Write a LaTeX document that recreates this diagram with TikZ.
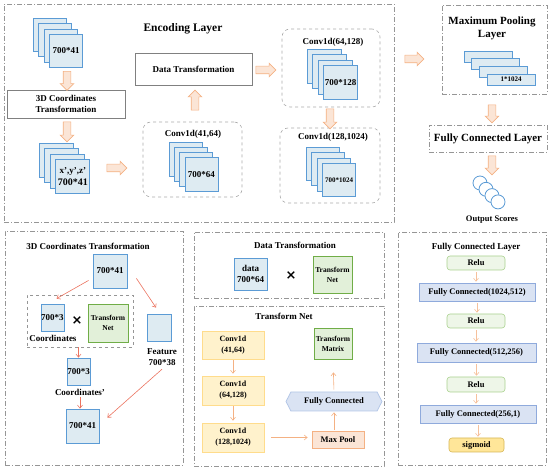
\documentclass[tikz,border=0pt]{standalone}
\usepackage{fontspec}
\setmainfont{Liberation Serif}
\newfontfamily\symfont{DejaVu Sans}
\usepackage{tikz}
\usetikzlibrary{arrows.meta,positioning,calc,shapes.arrows,shapes.symbols}
\definecolor{sqfill}{RGB}{222,235,242}
\definecolor{sqline}{RGB}{91,155,213}
\definecolor{gnfill}{RGB}{226,240,217}
\definecolor{gnline}{RGB}{112,173,71}
\definecolor{gnlight}{RGB}{169,209,142}
\definecolor{ylfill}{RGB}{255,242,204}
\definecolor{ylline}{RGB}{255,220,140}
\definecolor{sgfill}{RGB}{255,230,153}
\definecolor{sgline}{RGB}{214,182,86}
\definecolor{pkfill}{RGB}{251,229,214}
\definecolor{pkline}{RGB}{244,177,131}
\definecolor{bufill}{RGB}{218,227,243}
\definecolor{buline}{RGB}{143,170,220}
\definecolor{hxline}{RGB}{180,199,231}
\definecolor{lnred}{RGB}{235,115,95}
\definecolor{framegray}{RGB}{150,150,150}
\tikzset{
  frm/.style={draw=framegray, line width=0.6pt, dash pattern=on 5pt off 2pt on 1pt off 2pt, inner sep=0pt},
  rfrm/.style={draw=framegray!80, line width=0.6pt, dashed, rounded corners=8pt, inner sep=0pt},
  plain/.style={draw=black!50, line width=0.6pt, inner sep=0pt, align=center, font=\fontsize{9}{11}\bfseries},
  sq/.style={draw=sqline, fill=sqfill, line width=0.8pt, inner sep=0pt},
  gbox/.style={draw=gnline, fill=gnfill, line width=0.8pt, inner sep=0pt, align=center, font=\fontsize{7.5}{10}\bfseries},
  ybox/.style={draw=ylline, fill=ylfill, line width=0.6pt, inner sep=0pt, align=center, font=\fontsize{8}{11}\bfseries},
  relubox/.style={draw=gnlight, fill=gnfill!60, line width=0.6pt, rounded corners=3pt, inner sep=0pt, font=\fontsize{8.5}{10}\bfseries},
  fcbox/.style={draw=buline, fill=bufill, line width=0.6pt, inner sep=0pt, font=\fontsize{8.5}{10}\bfseries},
  blk/.style={single arrow, draw=pkline, fill=pkfill, line width=0.6pt, inner sep=3.5pt,
    single arrow head extend=3pt, minimum height=19pt},
  ln/.style={draw=lnred, line width=0.6pt, -{Straight Barb[length=3pt,width=5pt]}},
  lnp/.style={draw=pkline, line width=0.6pt, -{Straight Barb[length=3pt,width=5pt]}},
  ttl/.style={font=\fontsize{9}{11}\bfseries, inner sep=0pt, align=center},
  times/.style={font=\symfont\fontsize{13}{13}\bfseries, inner sep=0pt}
}
% stack of four shifted boxes: name, x0, y0, width, height, step, label
\newcommand{\layerstack}[7]{%
  \foreach \k in {0,...,3}
    \node[sq, minimum width=#4, minimum height=#5] (#1-\k)
      at ({#2+#4/2+#6*\k},{#3+#5/2+#6*\k}) {};
  \node[inner sep=0pt, align=center] (#1-lbl) at (#1-3) {#7};
}

\begin{document}
\begin{tikzpicture}[x=1pt, y=-1pt, font=\bfseries]
  \useasboundingbox (0,0) rectangle (550,473);

  % ---------- encoding layer ----------
  \node[frm, minimum width=390, minimum height=218] (enc) at (199,113) {};
  \node[font=\fontsize{11.5}{13}\bfseries] (enctitle) at (183,29) {Encoding Layer};

  \layerstack{s1}{33}{18}{33}{33}{5.5}{\fontsize{9}{11}\bfseries 700*41}
  \node[plain, minimum width=118, minimum height=28] (ct) at (66,104)
    {3D Coordinates\\Transformation};
  \layerstack{s2}{39}{143}{34}{34}{5.6}{\fontsize{9}{11}\bfseries x',y',z'\\700*41}

  \node[plain, minimum width=117, minimum height=32] (dt) at (193.5,69) {Data Transformation};

  \node[rfrm, minimum width=99, minimum height=75] (cva) at (192.5,159.5) {};
  \node[ttl] (cvatitle) at (193,134) {Conv1d(41,64)};
  \layerstack{s3}{169}{142}{33}{34}{5.3}{\fontsize{9}{11}\bfseries 700*64}

  \node[rfrm, minimum width=98, minimum height=78] (cvb) at (331,68) {};
  \node[ttl] (cvbtitle) at (333,42) {Conv1d(64,128)};
  \layerstack{s4}{307}{49}{34}{34}{5.5}{\fontsize{9}{11}\bfseries 700*128}

  \node[rfrm, minimum width=100, minimum height=75] (cvc) at (330,165.5) {};
  \node[ttl] (cvctitle) at (333,137) {Conv1d(128,1024)};
  \layerstack{s5}{306}{147}{33}{33}{5.5}{\fontsize{7}{9}\bfseries 700*1024}

  \node[blk, shape border rotate=270] (a1) at (67,79) {};
  \node[blk, shape border rotate=270, minimum height=20pt] (a2) at (67,130) {};
  \node[blk, minimum height=20pt] (a3) at (115,168) {};
  \node[blk, shape border rotate=90, minimum height=20pt] (a4) at (195,102) {};
  \node[blk, minimum height=20pt] (a5) at (264,70) {};
  \node[blk, shape border rotate=270, minimum height=20pt] (a6) at (330,117) {};

  % ---------- pooling and output ----------
  \node[blk] (a7) at (412.5,59) {};
  \node[frm, minimum width=105, minimum height=89] (mpl) at (494.5,49.5) {};
  \node[ttl, font=\fontsize{11}{13}\bfseries] (mpltitle) at (492,28) {Maximum Pooling\\Layer};
  \layerstack{bar}{464}{51}{48}{11}{7.7}{\fontsize{7}{9}\bfseries 1*1024}

  \node[blk, shape border rotate=270, minimum height=18pt] (a8) at (492,112) {};
  \node[frm, minimum width=118, minimum height=27, font=\fontsize{11}{13}\bfseries] (fcl) at (488,138.5)
    {Fully Connected Layer};
  \node[blk, shape border rotate=270] (a9) at (492,163.5) {};

  \foreach \k in {0,...,3}
    \node[circle, draw=sqline, fill=white, line width=0.8pt, minimum size=14, inner sep=0pt]
      (o\k) at ({480+6*\k},{183+6.3*\k}) {};
  \node[ttl, font=\fontsize{8.5}{10}\bfseries] (outlbl) at (492,220) {Output Scores};

  % ---------- 3D coordinates transformation ----------
  \node[frm, minimum width=178, minimum height=234] (bx1) at (94,348) {};
  \node[ttl] (bx1title) at (88,246) {3D Coordinates Transformation};
  \node[sq, minimum width=34, minimum height=34, font=\fontsize{9}{11}\bfseries] (t41) at (110,271) {700*41};
  \node[draw=framegray, dashed, line width=0.8pt, minimum width=106, minimum height=52, inner sep=0pt] (dbox) at (80,321) {};
  \node[sq, minimum width=23, minimum height=27, font=\fontsize{9}{11}\bfseries] (c3) at (52.5,317.5) {700*3};
  \node[font=\fontsize{9}{11}\bfseries, inner sep=0pt] (coordlbl) at (53,338) {Coordinates};
  \node[times] (x1) at (77,321) {×};
  \node[gbox, minimum width=40, minimum height=38] (tn1) at (108,323) {Transform\\Net};
  \node[sq, minimum width=24, minimum height=27] (feat) at (159,327.5) {};
  \node[ttl] (featlbl) at (162,357.5) {Feature\\700*38};
  \node[sq, minimum width=23, minimum height=27, font=\fontsize{9}{11}\bfseries] (c3b) at (78.5,371.5) {700*3};
  \node[font=\fontsize{9}{11}\bfseries, inner sep=0pt] (coordplbl) at (80,392) {Coordinates'};
  \node[sq, minimum width=33, minimum height=34, font=\fontsize{9}{11}\bfseries] (b41) at (82.5,426) {700*41};

  \draw[ln] ($(t41.south west)+(-4,-8)$) -- ($(c3.north)+(4,-5)$);
  \draw[ln] ($(t41.south east)+(9,-10)$) -- ($(feat.north)+(-3,-6)$);
  \draw[ln] (dbox.south -| c3b.north) -- (c3b.north);
  \draw[ln] ($(coordplbl.south)+(0,2)$) -- (b41.north -| coordplbl.south);
  \draw[ln] ($(featlbl.south)+(0,3)$) -- ($(b41.north east)+(8,9)$);

  % ---------- data transformation ----------
  \node[frm, minimum width=190, minimum height=66] (bx2) at (289,265) {};
  \node[ttl] (bx2title) at (295,245) {Data Transformation};
  \node[sq, minimum width=33, minimum height=32, align=center, font=\fontsize{9}{11}\bfseries] (data) at (250.5,274) {data\\700*64};
  \node[times] (x2) at (291,276) {×};
  \node[gbox, minimum width=39, minimum height=37] (tn2) at (332.5,274.5) {Transform\\Net};

  % ---------- transform net ----------
  \node[frm, minimum width=190, minimum height=160] (bx3) at (289,386) {};
  \node[ttl] (bx3title) at (284,316) {Transform Net};
  \node[ybox, minimum width=62, minimum height=28] (cv1) at (233,345) {Conv1d\\(41,64)};
  \node[ybox, minimum width=62, minimum height=29] (cv2) at (233,390.5) {Conv1d\\(64,128)};
  \node[ybox, minimum width=62, minimum height=29] (cv3) at (233,437.5) {Conv1d\\(128,1024)};
  \node[draw=pkline, fill=pkfill, line width=0.8pt, minimum width=52, minimum height=17, inner sep=0pt,
    font=\fontsize{8.5}{10}\bfseries] (mp) at (338,439.5) {Max Pool};
  \node[signal, signal to=east and west, signal pointer angle=125, draw=hxline, fill=bufill, line width=0.8pt,
    minimum width=96, minimum height=19, inner sep=0pt, font=\fontsize{8.5}{10}\bfseries] (hex) at (334,401.5) {Fully Connected};
  \node[gbox, minimum width=38, minimum height=31] (tm) at (333,343.5) {Transform\\Matrix};

  \draw[lnp, shorten <=1pt, shorten >=2pt] (cv1) -- (cv2);
  \draw[lnp, shorten <=1pt, shorten >=2pt] (cv2) -- (cv3);
  \draw[lnp, shorten <=7pt, shorten >=4pt] (cv3.east) -- (cv3.east -| mp.west);
  \draw[lnp, shorten <=1pt, shorten >=1pt] (mp.north -| hex.south) -- (hex.south);
  \draw[lnp, shorten <=2pt, shorten >=13pt] (hex.north) -- (tm.south);

  % ---------- fully connected layer ----------
  \node[frm, minimum width=148, minimum height=233] (bx4) at (472,348.5) {};
  \node[ttl] (bx4title) at (476,247) {Fully Connected Layer};
  \node[relubox, minimum width=58, minimum height=14] (r1) at (476,263) {Relu};
  \node[fcbox, minimum width=116, minimum height=18] (f1) at (477,292) {Fully Connected(1024,512)};
  \node[relubox, minimum width=58, minimum height=14] (r2) at (476,321) {Relu};
  \node[fcbox, minimum width=119, minimum height=19] (f2) at (476.5,352.5) {Fully Connected(512,256)};
  \node[relubox, minimum width=58, minimum height=15] (r3) at (476,384.5) {Relu};
  \node[fcbox, minimum width=116, minimum height=18] (f3) at (478,414) {Fully Connected(256,1)};
  \node[relubox, draw=sgline, fill=sgfill, minimum width=55, minimum height=14] (sg) at (476.5,445) {sigmoid};

  \foreach \p/\q in {r1/f1, f1/r2, r2/f2, f2/r3, r3/f3, f3/sg}
    \draw[lnp, draw=pkline!80, shorten <=2pt, shorten >=1pt] (\p.south) -- (\p.south |- \q.north);
\end{tikzpicture}
\end{document}
